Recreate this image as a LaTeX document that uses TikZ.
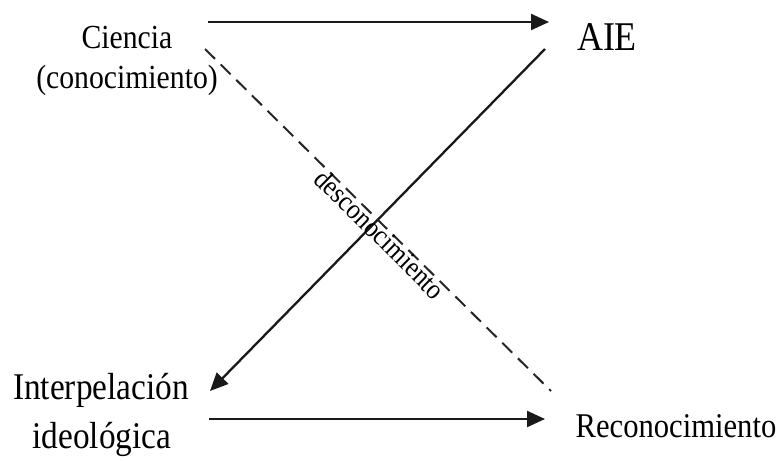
\documentclass[tikz,border=0pt]{standalone}
\usepackage{fontspec}
\setmainfont{Liberation Serif}
\usetikzlibrary{arrows.meta}
\tikzset{
  lbl/.style={inner sep=0pt, anchor=base, text=black},
  conn/.style={line width=2.3pt, draw=black!90},
  arr/.style={conn, -{Triangle[length=18pt,width=16pt]}},
  dsh/.style={line width=2pt, draw=black!85, dash pattern=on 14pt off 8pt}
}
\newcommand{\sq}[1]{\scalebox{0.9}[1.02]{#1}}
\begin{document}
\begin{tikzpicture}[x=1pt,y=-1pt]
\useasboundingbox (0,0) rectangle (780,461);
% text nodes
\node[lbl, font=\fontsize{33}{40}\selectfont] (ciencia) at (127,48) {\sq{Ciencia}};
\node[lbl, font=\fontsize{33}{40}\selectfont] (conoc) at (127,88) {\sq{(conocimiento)}};
\node[lbl, font=\fontsize{40}{44}\selectfont] (aie) at (607,50) {\sq{AIE}};
\node[lbl, font=\fontsize{37}{44}\selectfont] (interp) at (101,399) {\sq{Interpelación}};
\node[lbl, font=\fontsize{37}{44}\selectfont] (ideol) at (102,448) {\sq{ideológica}};
\node[lbl, font=\fontsize{34}{40}\selectfont] (recon) at (676,437) {\sq{Reconocimiento}};
% connector endpoints
\coordinate (t1) at (208,22);
\coordinate (t2) at (549,22);
\coordinate (d1) at (545,49);
\coordinate (d2) at (210,391);
\coordinate (k1) at (205,49);
\coordinate (k2) at (551,391);
\coordinate (b1) at (209,419);
\coordinate (b2) at (545,419);
% connectors
\draw[arr] (t1) -- (t2);
\draw[arr] (d1) -- (d2);
\draw[dsh] (k1) -- (k2);
\draw[arr] (b1) -- (b2);
\node[inner sep=0pt, rotate=-44.6, text=black, font=\fontsize{28}{32}\selectfont] (desc) at (380,234) {\sq{desconocimiento}};
\end{tikzpicture}
\end{document}
